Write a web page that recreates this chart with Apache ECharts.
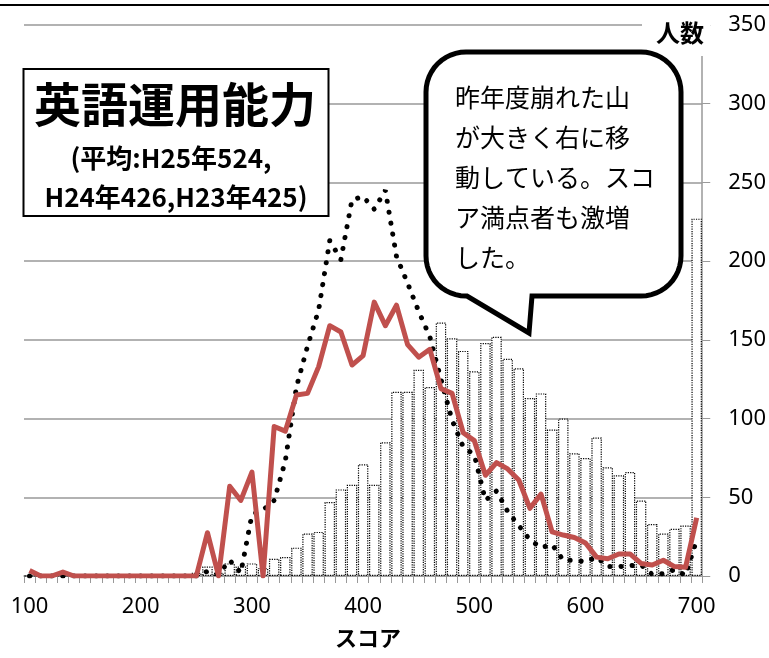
<!DOCTYPE html>
<html>
<head>
<meta charset="utf-8">
<script src="https://cdn.jsdelivr.net/npm/echarts@6/dist/echarts.min.js"></script>
<style>
html,body{margin:0;padding:0;background:#fff;}
#main{width:769px;height:658px;}
</style>
</head>
<body>
<div id="main"></div>
<script>
// Score bins (tick labels / categories)
var categories = ['100','110','120','130','140','150','160','170','180','190',
  '200','210','220','230','240','250','260','270','280','290',
  '300','310','320','330','340','350','360','370','380','390',
  '400','410','420','430','440','450','460','470','480','490',
  '500','510','520','530','540','550','560','570','580','590',
  '600','610','620','630','640','650','660','670','680','690','700'];

// H25 (bars)
var h25 = [0,0,0,0,0,0,0,0,0,0,
  0,0,0,1,1,2,6,2,8,6,
  8,5,11,12,18,27,28,47,55,58,
  71,58,85,117,117,131,120,161,151,143,
  130,148,152,138,132,113,116,93,100,78,
  75,88,69,64,66,48,33,27,30,32,227];

// H24 (red line)
var h24 = [3.5,0,0,2.5,0,0,0,0,0,0,
  0,0,0,0,0,0,27.5,0,57,48,
  66,0,95,92,115,116,133,159,155,134,
  140,174,159,172,147,139,144,119,116,91,
  86,64,72,68,61,43,52,28,26,24.5,
  21,12,11,14,14,8,7,10,6,5.5,37];

// H23 (black dotted line)
var h23 = [0,0,0,0,0,0,0,0,0,0,
  0,0,0,0,0,0,3,1,10,2,
  39,42,48,73,120,146,169,213,201,239,
  241,233,245,203,186,168,152,125,99,82,
  77,48,54,41,32,23,18,20,10,10,
  9,12,6,6,6.5,7,1,1.5,4,0.5,23];

var yTicks = {min: 0, max: 350, interval: 50};

var titleMain = '英語運用能力';
var titleSub1 = '(平均:H25年524,';
var titleSub2 = 'H24年426,H23年425)';
var bubbleText = '昨年度崩れた山\nが大きく右に移\n動している。スコ\nア満点者も激増\nした。';

var chart = echarts.init(document.getElementById('main'));

// decorative callout outline: rounded box with a tail
function bubblePoints(l, t, r, b, rad, tail) {
  var pts = [];
  function arc(cx, cy, a0, a1) {
    var n = 12;
    for (var i = 0; i <= n; i++) {
      var a = a0 + (a1 - a0) * i / n;
      pts.push([cx + rad * Math.cos(a), cy + rad * Math.sin(a)]);
    }
  }
  arc(l + rad, t + rad, Math.PI, Math.PI * 1.5);     // top-left
  arc(r - rad, t + rad, Math.PI * 1.5, Math.PI * 2); // top-right
  arc(r - rad, b - rad, 0, Math.PI * 0.5);           // bottom-right
  pts.push(tail[0], tail[1], tail[2]);
  arc(l + rad, b - rad, Math.PI * 0.5, Math.PI);     // bottom-left
  return pts;
}

var cjk = '"Noto Sans CJK JP", "Noto Sans", sans-serif';
var num = '"Noto Sans", "Noto Sans CJK JP", sans-serif';

var option = {
  animation: false,
  backgroundColor: '#fff',
  grid: {left: 24, right: 66, top: 25, bottom: 82},
  xAxis: {
    type: 'category',
    data: categories,
    boundaryGap: true,
    axisLine: {lineStyle: {color: '#999', width: 1.5}},
    axisTick: {show: true, interval: 0, length: 7, lineStyle: {color: '#999', width: 1}},
    axisLabel: {interval: 9, fontSize: 22, color: '#000', margin: 20, fontFamily: num},
    splitLine: {show: false}
  },
  yAxis: {
    type: 'value',
    position: 'right',
    min: yTicks.min, max: yTicks.max, interval: yTicks.interval,
    axisLine: {show: true, lineStyle: {color: '#999', width: 1.5}},
    axisTick: {show: true, length: 8, lineStyle: {color: '#999', width: 1}},
    axisLabel: {fontSize: 22, color: '#000', margin: 26, fontFamily: num},
    splitLine: {show: true, lineStyle: {color: '#999', width: 1.5}}
  },
  series: [
    {
      name: 'H25', type: 'bar', data: h25,
      barCategoryGap: '6%',
      itemStyle: {color: '#fff', borderColor: '#000', borderWidth: 1.2, borderType: 'dotted'},
      z: 1
    },
    {
      name: 'H23', type: 'line', data: h23,
      symbol: 'none', showSymbol: false,
      lineStyle: {color: '#000', width: 5, type: [0.1, 11], cap: 'round'},
      z: 2
    },
    {
      name: 'H24', type: 'line', data: h24,
      symbol: 'none', showSymbol: false,
      lineStyle: {color: '#C0504D', width: 5, join: 'round'},
      z: 3
    }
  ],
  graphic: [
    {type: 'line', shape: {x1: 0, y1: 5, x2: 769, y2: 5}, style: {stroke: '#000', lineWidth: 2}, z: 100},
    {type: 'rect', shape: {x: 642, y: 12, width: 68, height: 44}, style: {fill: '#fff'}, z: 100},
    {type: 'text', x: 680, y: 33, style: {text: '人数', font: 'bold 24px ' + cjk, fill: '#000', textAlign: 'center', textVerticalAlign: 'middle'}, z: 101},
    {type: 'text', x: 368, y: 638, style: {text: 'スコア', font: 'bold 22px ' + cjk, fill: '#000', textAlign: 'center', textVerticalAlign: 'middle'}, z: 101},
    {type: 'rect', shape: {x: 23.5, y: 69, width: 305, height: 147}, style: {fill: '#fff', stroke: '#000', lineWidth: 2}, z: 100},
    {type: 'text', x: 175, y: 104, style: {text: titleMain, font: 'bold 47px ' + cjk, fill: '#000', textAlign: 'center', textVerticalAlign: 'middle'}, z: 101},
    {type: 'text', x: 171, y: 158, style: {text: titleSub1, font: 'bold 26px ' + cjk, fill: '#000', textAlign: 'center', textVerticalAlign: 'middle'}, z: 101},
    {type: 'text', x: 176, y: 197, style: {text: titleSub2, font: 'bold 26px ' + cjk, fill: '#000', textAlign: 'center', textVerticalAlign: 'middle'}, z: 101},
    {type: 'polygon', shape: {points: bubblePoints(426, 52, 681, 296, 40, [[532, 296], [529, 333], [467, 296]])},
      style: {fill: '#fff', stroke: '#000', lineWidth: 5, lineJoin: 'miter'}, z: 100},
    {type: 'text', x: 455, y: 77, style: {text: bubbleText, font: '25px ' + cjk, fill: '#000', textAlign: 'left', textVerticalAlign: 'top', lineHeight: 40}, z: 101}
  ]
};
chart.setOption(option);
</script>
</body>
</html>
